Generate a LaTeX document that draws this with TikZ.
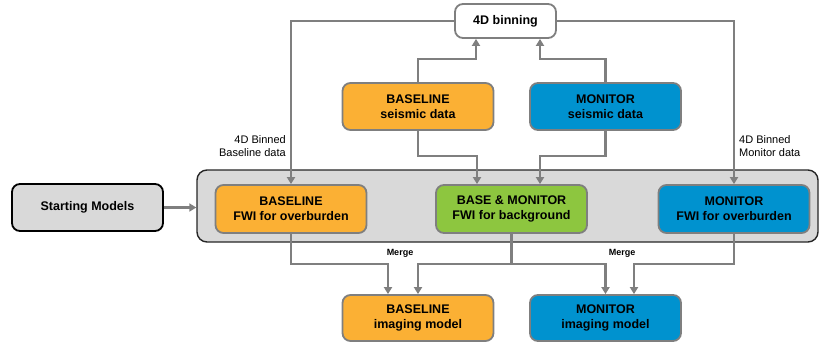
\documentclass[tikz,border=0pt]{standalone}
\usepackage{fontspec}
\setmainfont{Liberation Sans}
\usepackage{xcolor}
\usepackage{tikz}
\usetikzlibrary{arrows.meta,positioning,calc}
\definecolor{fwiorange}{HTML}{FBB034}
\definecolor{fwiblue}{HTML}{0092CF}
\definecolor{fwigreen}{HTML}{8DC63F}
\definecolor{boxgray}{HTML}{D9D9D9}
\definecolor{linegray}{HTML}{7F7F7F}

\begin{document}
\begin{tikzpicture}[
  x=1pt, y=-1pt,
  box/.style={rectangle, draw=linegray, line width=1.8pt, rounded corners=8pt,
    minimum height=47pt, minimum width=151pt, align=center,
    font=\bfseries\fontsize{12.5}{15}\selectfont, inner sep=0pt},
  orangebox/.style={box, fill=fwiorange},
  bluebox/.style={box, fill=fwiblue},
  greenbox/.style={box, fill=fwigreen},
  arr/.style={-{Triangle[length=7pt, width=8pt]}, draw=linegray, line width=2.6pt},
  note/.style={align=left, font=\fontsize{11}{13.3}\selectfont, inner sep=0pt},
  merge/.style={font=\bfseries\fontsize{9}{10}\selectfont, inner sep=0pt}
]
\useasboundingbox (0,0) rectangle (819,341);
% container for the three FWI runs
\node[rectangle, draw=black!85, line width=1.4pt, fill=boxgray, rounded corners=10pt,
  minimum width=621pt, minimum height=72pt] (cont) at (507.5,206) {};
\node[box, fill=white, minimum width=101pt, minimum height=34pt] (bin) at (505.5,21) {4D binning};
\node[orangebox] (bseis) at (418,106.5) {BASELINE\\seismic data};
\node[bluebox] (mseis) at (605.5,106.5) {MONITOR\\seismic data};
\node[box, draw=black, fill=boxgray] (start) at (87.5,207.5) {Starting Models};
\node[orangebox, minimum height=48pt] (bfwi) at (291,209) {BASELINE\\FWI for overburden};
\node[greenbox, minimum height=48pt] (bmfwi) at (511.5,209) {BASE \& MONITOR\\FWI for background};
\node[bluebox, minimum height=48pt] (mfwi) at (734,209) {MONITOR\\FWI for overburden};
\node[orangebox, minimum height=46pt] (bimg) at (418,318) {BASELINE\\imaging model};
\node[bluebox, minimum height=46pt] (mimg) at (605.5,318) {MONITOR\\imaging model};
% labels
\node[note, align=right, anchor=north east] (bnote) at (286,135) {4D Binned\\Baseline data};
\node[note, anchor=north west] (mnote) at (739,135) {4D Binned\\Monitor data};
\node[merge] (merge1) at (400,253) {Merge};
\node[merge] (merge2) at (622,253) {Merge};
% connectors
\draw[arr] (bseis.north) -- ++(0,-23) -| ([xshift=-29.5pt]bin.south);
\draw[arr] (mseis.north) -- ++(0,-23) -| ([xshift=34.5pt]bin.south);
\draw[arr] (bin.west) -| (bfwi.north);
\draw[arr] (bin.east) -| (mfwi.north);
\draw[arr] (bseis.south) -- ++(0,25) -| ([xshift=-34.5pt]bmfwi.north);
\draw[arr] (mseis.south) -- ++(0,25) -| ([xshift=28.5pt]bmfwi.north);
\draw[arr] (start.east) -- (start.east -| cont.west);
\draw[arr] (bfwi.south) -- ++(0,30) -| ([xshift=-30pt]bimg.north);
\draw[arr] (bmfwi.south) -- ++(0,30) -| (bimg.north);
\draw[arr] (bmfwi.south) -- ++(0,30) -| (mimg.north);
\draw[arr] (mfwi.south) -- ++(0,30) -| ([xshift=28.5pt]mimg.north);
\end{tikzpicture}
\end{document}
